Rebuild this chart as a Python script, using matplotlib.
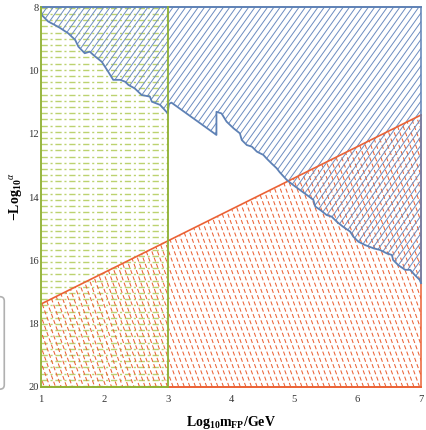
import numpy as np
import matplotlib
matplotlib.use("Agg")
import matplotlib.pyplot as plt
from matplotlib.patches import Polygon, FancyBboxPatch
from matplotlib.collections import LineCollection

plt.rcParams["font.family"] = ["Liberation Serif", "DejaVu Serif"]
plt.rcParams["mathtext.fontset"] = "custom"
plt.rcParams["mathtext.rm"] = "Liberation Serif"
plt.rcParams["mathtext.bf"] = "Liberation Serif:bold"
plt.rcParams["mathtext.it"] = "Liberation Serif:italic"
plt.rcParams["lines.scale_dashes"] = False

# --- data ---
x_ticks = [1, 2, 3, 4, 5, 6, 7]
y_ticks = [8, 10, 12, 14, 16, 18, 20]

# green band (excluded mass range)
green_x = [1.0, 3.0]

# red/orange straight bound
red_x = [1.0, 7.0]
red_y = [17.38, 11.41]

# blue jagged bound (region above it is excluded)
blue_x = [1.00, 1.01, 1.115, 1.22, 1.30, 1.43, 1.54, 1.59, 1.69, 1.77, 1.83,
          1.96, 2.06, 2.14, 2.25, 2.33, 2.38, 2.48, 2.59, 2.72, 2.75, 2.88,
          2.98, 3.00, 3.02, 3.06, 3.77, 3.77, 3.85, 3.93, 4.04, 4.14, 4.17,
          4.25, 4.33, 4.41, 4.51, 4.56, 4.64, 4.72, 4.77, 4.88, 4.98, 5.09,
          5.20, 5.30, 5.33, 5.41, 5.51, 5.59, 5.67, 5.77, 5.88, 5.93, 6.01,
          6.12, 6.25, 6.35, 6.46, 6.54, 6.56, 6.64, 6.75, 6.83, 6.90, 6.98,
          7.00]
blue_y = [8.10, 8.25, 8.46, 8.57, 8.66, 8.83, 9.04, 9.25, 9.46, 9.41, 9.52,
          9.73, 10.04, 10.30, 10.30, 10.36, 10.46, 10.57, 10.78, 10.83, 10.99,
          11.09, 11.31, 11.36, 11.06, 11.02, 12.04, 11.31, 11.36, 11.62,
          11.83, 11.99, 12.20, 12.36, 12.41, 12.57, 12.67, 12.78, 12.94,
          13.09, 13.22, 13.46, 13.62, 13.78, 13.94, 14.09, 14.30, 14.41,
          14.57, 14.62, 14.78, 14.94, 15.09, 15.25, 15.41, 15.52, 15.62,
          15.67, 15.78, 15.83, 15.99, 16.15, 16.30, 16.30, 16.46, 16.62,
          16.72]

BLUE = "#5E81B5"
GREEN = "#8FB032"
RED = "#EB6235"

fig = plt.figure(figsize=(4.27, 4.30), dpi=100)
ax = fig.add_axes([0.096, 0.10, 0.890, 0.8837])
ax.set_xlim(x_ticks[0], x_ticks[-1])
ax.set_ylim(y_ticks[-1], y_ticks[0])


def hatch(patch, slope, step_px, color, lw, ls, horizontal=False):
    """Draw hatch lines (axes coords) clipped to a patch."""
    bb = ax.get_position()
    w_px = bb.width * fig.get_figwidth() * fig.dpi
    h_px = bb.height * fig.get_figheight() * fig.dpi
    segs = []
    if horizontal:
        for y in np.arange(1.0 / h_px, 1, step_px / h_px):
            segs.append([(0, y), (1, y)])
    else:
        run = (h_px / w_px) / abs(slope)
        for c in np.arange(-run - 0.05, 1.05, step_px / w_px):
            if slope > 0:
                segs.append([(c, 0), (c + run, 1)])
            else:
                segs.append([(c, 1), (c + run, 0)])
    lc = LineCollection(segs, colors=color, linewidths=lw, linestyles=ls,
                        transform=ax.transAxes)
    ax.add_collection(lc)
    lc.set_clip_path(patch)


ylo, yhi = y_ticks[0], y_ticks[-1]

green_patch = Polygon([(green_x[0], ylo), (green_x[1], ylo),
                       (green_x[1], yhi), (green_x[0], yhi)],
                      closed=True, fill=False, lw=0)
red_patch = Polygon([(red_x[0], red_y[0]), (red_x[1], red_y[1]),
                     (red_x[1], yhi), (red_x[0], yhi)],
                    closed=True, fill=False, lw=0)
blue_patch = Polygon(list(zip(blue_x, blue_y)) + [(x_ticks[-1], ylo), (x_ticks[0], ylo)],
                     closed=True, fill=False, lw=0)
for p in (green_patch, red_patch, blue_patch):
    ax.add_patch(p)

hatch(green_patch, 0, 6.2, "#BCD270", 1.0, (0, (4.5, 2.0, 1.5, 2.0)), horizontal=True)
hatch(red_patch, -2.75, 5.6, RED, 0.75, (0, (3.0, 1.8)))
hatch(blue_patch, 1.4, 6.3, "#6C8CC0", 0.7, "-")

# region boundaries
ax.plot([red_x[1], red_x[1]], [red_y[1], yhi], color=RED, lw=1.1, clip_on=False)
ax.plot([green_x[1], red_x[1]], [yhi, yhi], color=RED, lw=1.4, clip_on=False)
ax.plot(red_x, red_y, color=RED, lw=1.2, clip_on=False)
ax.plot([x_ticks[-1], x_ticks[-1]], [ylo, blue_y[-1]], color=BLUE, lw=1.1, clip_on=False)
ax.plot([x_ticks[0], x_ticks[-1]], [ylo, ylo], color=BLUE, lw=1.4, clip_on=False)
ax.plot(blue_x, blue_y, color=BLUE, lw=1.3, clip_on=False)
for gx in green_x:
    ax.plot([gx, gx], [ylo, yhi], color=GREEN, lw=1.3, clip_on=False)
ax.plot(green_x, [yhi, yhi], color=GREEN, lw=1.4, clip_on=False)

for s in ax.spines.values():
    s.set_visible(False)
ax.set_xticks(x_ticks)
ax.set_yticks(y_ticks)
ax.tick_params(length=0, labelsize=7.6, labelcolor="#333333")
ax.tick_params(axis="x", pad=6.0)
ax.tick_params(axis="y", pad=1.5)

ax.set_xlabel(r"$\mathbf{Log_{10}m_{FP}/GeV}$", fontsize=10, labelpad=7)
ax.set_ylabel(r"$\mathbf{-Log}_{\mathbf{10}}{}^{\alpha}$", fontsize=10, labelpad=3)

# grey rounded frame remnant at the left edge
fig.patches.append(FancyBboxPatch((-0.05, 0.095), 0.06, 0.215,
                                  boxstyle="round,pad=0,rounding_size=0.01",
                                  transform=fig.transFigure, fc="white",
                                  ec="#b0b0b0", lw=1.2, zorder=-1))

fig.savefig("out.png", dpi=100)
